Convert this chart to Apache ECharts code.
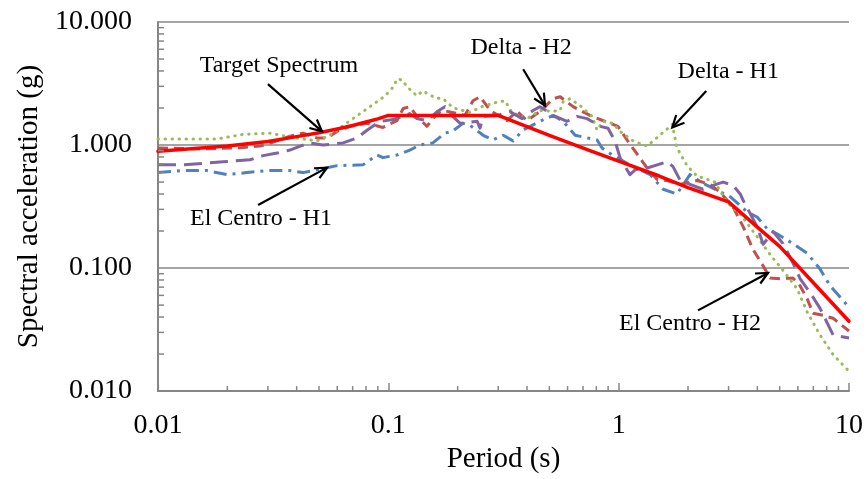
<!DOCTYPE html>
<html>
<head>
<meta charset="utf-8">
<script src="https://cdn.jsdelivr.net/npm/echarts@6/dist/echarts.min.js"></script>
<style>
html,body{margin:0;padding:0;background:#fff;}
#chart{width:867px;height:479px;}
</style>
</head>
<body>
<div id="chart"></div>
<script>
// ---- data ----
var xTickLabels = ['0.01', '0.1', '1', '10'];
var yTickLabels = ['0.010', '0.100', '1.000', '10.000'];

var targetT  = [0.01,0.02,0.03,0.04,0.05,0.06,0.07,0.08,0.09,0.1,0.2,0.3,0.5,0.75,1,1.5,2,3,4,5,7,10];
var targetSa = [0.89,0.98,1.07,1.17,1.26,1.35,1.44,1.54,1.63,1.74,1.74,1.74,1.2,0.9,0.74,0.56,0.45,0.345,0.215,0.15,0.076,0.037];

var elCentroH1T  = [0.01,0.0128,0.0163,0.020,0.0243,0.0297,0.0374,0.0426,0.0599,0.0776,0.0893,0.0948,0.109,0.124,0.137,0.156,0.176,0.189,0.211,0.226,0.258,0.285,0.315,0.348,0.384,0.456,0.519,0.574,0.647,0.806,0.847,0.946,1.12,1.37,1.56,1.79,2.04,2.32,3.05,3.61,3.99,4.41,4.87,5.71,6.58,7.49,8.27,10];
var elCentroH1Sa = [0.597,0.62,0.62,0.575,0.597,0.62,0.62,0.597,0.68,0.69,0.83,0.79,0.83,0.91,1.0,1.04,1.25,1.29,1.5,1.45,1.2,1.1,1.2,1.08,1.32,1.56,1.74,1.56,1.2,1.1,0.946,0.82,0.69,0.575,0.437,0.40,0.575,0.49,0.38,0.286,0.26,0.209,0.19,0.158,0.132,0.098,0.072,0.048];

var elCentroH2T  = [0.01,0.0152,0.022,0.0277,0.0329,0.0374,0.0426,0.049,0.0542,0.0599,0.0682,0.0808,0.0948,0.109,0.116,0.124,0.133,0.147,0.163,0.173,0.201,0.215,0.233,0.25,0.277,0.327,0.362,0.40,0.456,0.519,0.557,0.634,0.767,0.918,0.993,1.087,1.21,1.33,1.47,1.62,1.85,2.19,2.49,2.76,3.14,3.47,3.83,4.24,4.54,5.02,5.71,6.13,6.58,6.98,7.71,8.53,10];
var elCentroH2Sa = [0.946,0.93,0.946,0.98,1.08,1.18,1.25,1.14,1.14,1.29,1.42,1.50,1.39,1.58,1.98,2.05,1.71,1.42,1.80,1.91,1.80,1.74,2.29,2.47,1.91,1.58,1.88,1.58,1.88,2.38,2.47,2.05,1.71,1.50,1.42,1.10,0.83,0.65,0.525,0.515,0.479,0.515,0.479,0.413,0.313,0.217,0.142,0.104,0.083,0.082,0.083,0.0718,0.0565,0.0429,0.0413,0.0391,0.0308];

var deltaH1T  = [0.01,0.018,0.0234,0.0306,0.0374,0.049,0.0558,0.0682,0.0833,0.0968,0.105,0.109,0.115,0.121,0.133,0.141,0.160,0.173,0.191,0.226,0.255,0.291,0.321,0.344,0.40,0.456,0.519,0.557,0.574,0.615,0.68,0.767,0.806,0.855,0.946,1.014,1.156,1.328,1.51,1.71,1.79,1.98,2.19,2.62,2.96,3.37,3.99,4.54,5.12,5.95,6.58,7.49,8.53,10];
var deltaH1Sa = [1.12,1.12,1.22,1.25,1.16,1.08,1.20,1.58,2.05,2.51,2.96,3.44,3.38,2.96,2.51,2.75,2.42,2.38,2.01,1.84,2.05,2.21,2.29,1.84,1.64,1.91,1.88,1.91,2.25,2.38,2.09,1.71,1.32,1.56,1.50,1.29,1.08,0.98,1.20,1.47,0.95,0.68,0.56,0.50,0.34,0.275,0.18,0.129,0.098,0.068,0.044,0.0286,0.0198,0.0145];

var deltaH2T  = [0.01,0.0128,0.0192,0.0251,0.0286,0.0329,0.0374,0.0414,0.0457,0.052,0.0636,0.0731,0.0808,0.092,0.105,0.116,0.124,0.133,0.147,0.163,0.176,0.185,0.205,0.243,0.25,0.258,0.297,0.337,0.381,0.425,0.456,0.519,0.597,0.659,0.729,0.83,0.899,0.964,1.014,1.087,1.12,1.18,1.33,1.62,1.72,1.85,2.04,2.32,2.57,2.84,3.14,3.37,3.47,3.99,4.24,4.68,5.17,5.71,6.13,6.78,7.49,8.53,10];
var deltaH2Sa = [0.692,0.69,0.73,0.76,0.82,0.86,0.91,0.98,1.04,1.0,1.04,1.14,1.32,1.56,1.61,1.71,1.80,1.64,1.58,1.87,2.05,1.80,1.50,1.56,1.37,1.71,1.74,1.87,1.64,1.91,2.05,1.74,1.56,1.71,1.64,1.42,1.37,1.08,0.79,0.63,0.575,0.63,0.65,0.73,0.67,0.515,0.479,0.437,0.47,0.50,0.47,0.40,0.356,0.217,0.156,0.198,0.158,0.11,0.082,0.063,0.047,0.0286,0.027];

// annotations (data coordinates: period, acceleration)
var annLabels = ['Target Spectrum', 'Delta - H2', 'Delta - H1', 'El Centro - H1', 'El Centro - H2'];
var annTextPos = [[0.0335, 4.45], [0.377, 6.19], [2.99, 3.98], [0.028, 0.251], [2.04, 0.0356]];
var annTail    = [[0.030, 3.13], [0.385, 4.13], [2.40, 2.75], [0.0272, 0.325], [2.21, 0.0453]];
var annHead    = [[0.0515, 1.29], [0.479, 2.09], [1.71, 1.39], [0.0542, 0.655], [4.45, 0.0912]];

function zip(a, b) { return a.map(function (v, i) { return [v, b[i]]; }); }

var FONT = '"Liberation Serif", "Times New Roman", serif';
var chart = echarts.init(document.getElementById('chart'), null, { renderer: 'canvas' });

function series(name, t, sa, color, width, type, cap, z) {
  return {
    name: name, type: 'line', data: zip(t, sa), showSymbol: false, symbol: 'none',
    smooth: false, z: z, animation: false,
    lineStyle: { color: color, width: width, type: type, cap: cap, join: 'round' }
  };
}

chart.setOption({
  animation: false,
  backgroundColor: '#ffffff',
  grid: { left: 158, right: 18, top: 22, bottom: 82, containLabel: false },
  xAxis: {
    type: 'log', logBase: 10, min: 0.01, max: 10,
    name: 'Period (s)', nameLocation: 'middle', nameGap: 47,
    nameTextStyle: { fontFamily: FONT, fontSize: 29, color: '#000' },
    axisLine: { show: true, lineStyle: { color: '#868686', width: 2 } },
    axisTick: { show: true, inside: true, length: 8, lineStyle: { color: '#868686', width: 1.5 } },
    splitLine: { show: false },
    axisLabel: {
      fontFamily: FONT, fontSize: 28, color: '#000', margin: 21,
      formatter: function (v) { return xTickLabels[Math.round(Math.log10(v)) + 2]; }
    }
  },
  yAxis: {
    type: 'log', logBase: 10, min: 0.01, max: 10,
    name: 'Spectral acceleration (g)', nameLocation: 'middle', nameGap: 114, nameRotate: 90,
    nameTextStyle: { fontFamily: FONT, fontSize: 29, color: '#000' },
    axisLine: { show: true, lineStyle: { color: '#868686', width: 2 } },
    axisTick: { show: false },
    splitLine: { show: true, lineStyle: { color: '#868686', width: 1.5 } },
    axisLabel: {
      fontFamily: FONT, fontSize: 28, color: '#000', margin: 26,
      formatter: function (v) { return yTickLabels[Math.round(Math.log10(v)) + 2]; }
    }
  },
  series: [
    series('El Centro - H1', elCentroH1T, elCentroH1Sa, '#4F81BD', 3, [13, 6, 3, 6], 'butt', 2),
    series('El Centro - H2', elCentroH2T, elCentroH2Sa, '#C0504D', 3, [10, 6], 'butt', 3),
    series('Delta - H1', deltaH1T, deltaH1Sa, '#9BBB59', 3, [0.5, 6.5], 'round', 4),
    series('Delta - H2', deltaH2T, deltaH2Sa, '#8064A2', 3, [18, 8], 'butt', 5),
    series('Target Spectrum', targetT, targetSa, '#FF0000', 3.5, 'solid', 'round', 6)
  ]
});

// decorations computed through the axes' scales
var g = [];
function px(v, axis) {
  return axis === 'x' ? chart.convertToPixel({ xAxisIndex: 0 }, v) : chart.convertToPixel({ yAxisIndex: 0 }, v);
}
var x0 = px(0.01, 'x'), yBottom = px(0.01, 'y');
var decades = [0.01, 0.1, 1];
decades.forEach(function (d) {
  for (var k = 2; k <= 9; k++) {
    var xx = px(k * d, 'x');
    g.push({ type: 'line', shape: { x1: xx, y1: yBottom, x2: xx, y2: yBottom - 5 }, style: { stroke: '#868686', lineWidth: 1.5 }, z: 10 });
    var yy = px(k * d, 'y');
    g.push({ type: 'line', shape: { x1: x0, y1: yy, x2: x0 + 6, y2: yy }, style: { stroke: '#868686', lineWidth: 1.5 }, z: 10 });
  }
});

annLabels.forEach(function (label, i) {
  var tp = chart.convertToPixel({ gridIndex: 0 }, annTextPos[i]);
  var t = chart.convertToPixel({ gridIndex: 0 }, annTail[i]);
  var h = chart.convertToPixel({ gridIndex: 0 }, annHead[i]);
  g.push({ type: 'text', x: tp[0], y: tp[1], z: 20,
    style: { text: label, font: '24px ' + FONT, fill: '#000', textAlign: 'center', textVerticalAlign: 'middle' } });
  g.push({ type: 'line', shape: { x1: t[0], y1: t[1], x2: h[0], y2: h[1] }, style: { stroke: '#000', lineWidth: 2.2 }, z: 20 });
  var ang = Math.atan2(h[1] - t[1], h[0] - t[0]);
  var L = 13, a = 0.45;
  var p1 = [h[0] - L * Math.cos(ang - a), h[1] - L * Math.sin(ang - a)];
  var p2 = [h[0] - L * Math.cos(ang + a), h[1] - L * Math.sin(ang + a)];
  g.push({ type: 'polyline', shape: { points: [p1, [h[0], h[1]], p2] }, style: { stroke: '#000', lineWidth: 2.2, fill: null }, z: 20 });
});

chart.setOption({ graphic: g });
</script>
</body>
</html>
